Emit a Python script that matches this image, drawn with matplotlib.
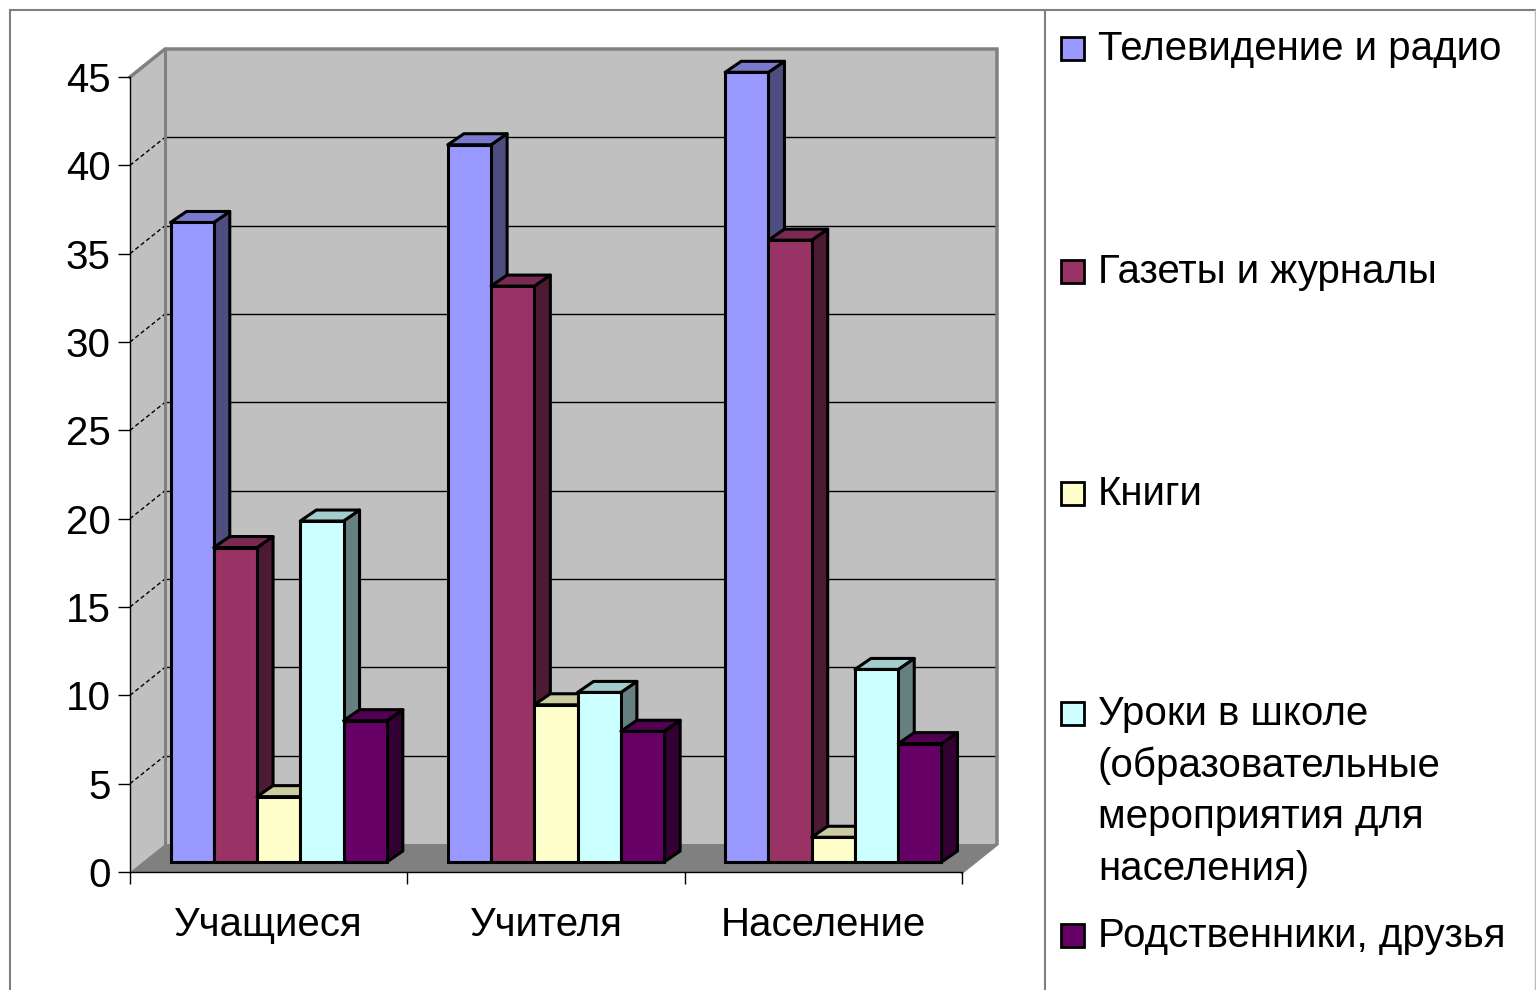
import numpy as np
import matplotlib
matplotlib.use('Agg')
import matplotlib.pyplot as plt
from matplotlib.patches import Polygon, Rectangle
from matplotlib.lines import Line2D

# ---------------- data ----------------
categories = ['Учащиеся', 'Учителя', 'Население']
series_names = ['Телевидение и радио',
                'Газеты и журналы',
                'Книги',
                'Уроки в школе\n(образовательные\nмероприятия для\nнаселения)',
                'Родственники, друзья']
tv_radio = [36.2, 40.6, 44.7]
press = [17.8, 32.6, 35.2]
books = [3.7, 8.9, 1.4]
lessons = [19.3, 9.6, 10.9]
relatives = [8.0, 7.4, 6.7]
y_ticks = [0, 5, 10, 15, 20, 25, 30, 35, 40, 45]

# ---------------- style ----------------
front_colors = ['#9999FF', '#993366', '#FFFFCC', '#CCFFFF', '#660066']
top_colors = ['#7A7ACC', '#7A2952', '#CCCCA3', '#A3CCCC', '#520052']
side_colors = ['#4D4D80', '#4D1A33', '#808066', '#668080', '#330033']

plt.rcParams['font.family'] = ['Liberation Sans', 'DejaVu Sans']
FS = 29

W, H = 1536, 990
fig = plt.figure(figsize=(W / 100, H / 100), dpi=100)
fig.patch.set_facecolor('white')

ax_l, ax_r, ax_b, ax_t = 130, 962, 872, 77
ax = fig.add_axes([ax_l / W, 1 - ax_b / H, (ax_r - ax_l) / W, (ax_b - ax_t) / H])
ax.set_xlim(-0.5, 2.5)
ax.set_ylim(0, 45)
ax.patch.set_visible(False)

px_x = (ax_r - ax_l) / 3.0
px_y = (ax_b - ax_t) / 45.0


def dxu(p):
    return p / px_x


def dyu(p):
    return p / px_y


# walls & floor
wdx, wdy = dxu(35), dyu(28)
x0, x1, ymax = -0.5, 2.5, 45
wall_c = '#C0C0C0'
ax.add_patch(Polygon([(x0, 0), (x0 + wdx, wdy), (x0 + wdx, ymax + wdy), (x0, ymax)],
                     closed=True, fc=wall_c, ec='none', zorder=0, clip_on=False))
ax.add_patch(Polygon([(x0 + wdx, wdy), (x1 + wdx, wdy), (x1 + wdx, ymax + wdy), (x0 + wdx, ymax + wdy)],
                     closed=True, fc=wall_c, ec='none', zorder=0, clip_on=False))
ax.add_patch(Polygon([(x0, 0), (x1, 0), (x1 + wdx, wdy), (x0 + wdx, wdy)],
                     closed=True, fc='#808080', ec='none', zorder=0.5, clip_on=False))

for v in y_ticks[1:-1]:
    ax.plot([x0 + wdx, x1 + wdx], [v + wdy, v + wdy], color='black', lw=1.0, zorder=1, clip_on=False)
    ax.plot([x0, x0 + wdx], [v, v + wdy], color='black', lw=1.0, ls=(0, (3, 2)), zorder=1, clip_on=False)

ax.plot([x0, x0 + wdx, x1 + wdx, x1 + wdx, x1], [ymax, ymax + wdy, ymax + wdy, wdy, 0],
        color='#808080', lw=2.5, zorder=1.5, clip_on=False, solid_joinstyle='miter')
ax.plot([x0 + wdx, x0 + wdx], [wdy, ymax + wdy], color='#808080', lw=2.2, zorder=1.5, clip_on=False)

# bars
values = [tv_radio, press, books, lessons, relatives]
bw = 0.156
group_w = bw * len(values)
off_x, off_y = dxu(10), dyu(10)
bdx, bdy = dxu(16), dyu(11)
xc = np.arange(len(categories))
LW = 2.2
for i, vals in enumerate(values):
    lefts = xc - group_w / 2 + i * bw + off_x
    bars = ax.bar(lefts, vals, width=bw, bottom=off_y, align='edge', color=front_colors[i],
                  edgecolor='black', linewidth=LW, zorder=12 + 3 * i, clip_on=False)
    for rect in bars:
        xl = rect.get_x()
        xr = xl + rect.get_width()
        yb = rect.get_y()
        yt = yb + rect.get_height()
        ax.add_patch(Polygon([(xr, yb), (xr + bdx, yb + bdy), (xr + bdx, yt + bdy), (xr, yt)],
                             closed=True, fc=side_colors[i], ec='black', lw=LW,
                             zorder=10 + 3 * i, clip_on=False, joinstyle='round'))
        ax.add_patch(Polygon([(xl, yt), (xr, yt), (xr + bdx, yt + bdy), (xl + bdx, yt + bdy)],
                             closed=True, fc=top_colors[i], ec='black', lw=LW,
                             zorder=11 + 3 * i, clip_on=False, joinstyle='round'))

# axes, ticks
for s in ['top', 'right']:
    ax.spines[s].set_visible(False)
for s in ['left', 'bottom']:
    ax.spines[s].set_color('black')
    ax.spines[s].set_linewidth(1.0)
    ax.spines[s].set_zorder(5)

ax.set_yticks(y_ticks)
ax.set_yticklabels([str(v) for v in y_ticks], fontsize=FS)
ax.tick_params(axis='y', direction='out', length=8.6, width=1.0, pad=5.5)
ax.set_xticks([-0.5, 0.5, 1.5, 2.5])
ax.set_xticklabels(['', '', '', ''])
ax.tick_params(axis='x', which='major', direction='out', length=8.6, width=1.0)
ax.set_xticks(xc, minor=True)
ax.set_xticklabels(categories, minor=True, fontsize=FS)
ax.tick_params(axis='x', which='minor', length=0, pad=24.5)

# outer frame
fc = '#7F7F7F'
fig.add_artist(Line2D([10 / W, 10 / W], [0, 1 - 10 / H], color=fc, lw=1.5))
fig.add_artist(Line2D([10 / W, 1], [1 - 10 / H, 1 - 10 / H], color=fc, lw=1.5))
fig.add_artist(Line2D([1045 / W, 1045 / W], [0, 1 - 10 / H], color=fc, lw=1.5))
fig.add_artist(Line2D([1535 / W, 1535 / W], [0, 1 - 10 / H], color='#BBBBBB', lw=1.0))

# legend
baselines = [[60], [283], [505], [725, 777, 828, 880], [947]]
for i, name in enumerate(series_names):
    lines = name.split('\n')
    b0 = baselines[i][0]
    fig.add_artist(Rectangle((1061 / W, 1 - b0 / H), 23 / W, 23 / H, transform=fig.transFigure,
                             fc=front_colors[i], ec='black', lw=2.0))
    for line, b in zip(lines, baselines[i]):
        fig.text(1098 / W, 1 - b / H, line, fontsize=FS, va='baseline', ha='left')

fig.savefig('out.png', dpi=100)
